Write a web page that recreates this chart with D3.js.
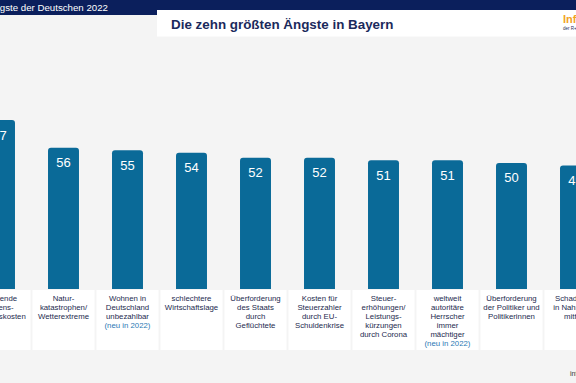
<!DOCTYPE html>
<html>
<head>
<meta charset="utf-8">
<script src="https://cdn.jsdelivr.net/npm/d3@7"></script>
<style>
  html, body { margin: 0; padding: 0; background: #f4f4f4; }
  svg { display: block; }
  text { font-family: "Liberation Sans", Arial, sans-serif; }
</style>
</head>
<body>
<svg id="chart" width="576" height="383"></svg>
<script>
// Data
const categories = [
  "Steigende Lebenshaltungskosten",
  "Naturkatastrophen/Wetterextreme",
  "Wohnen in Deutschland unbezahlbar",
  "schlechtere Wirtschaftslage",
  "Überforderung des Staats durch Geflüchtete",
  "Kosten für Steuerzahler durch EU-Schuldenkrise",
  "Steuererhöhungen/Leistungskürzungen durch Corona",
  "weltweit autoritäre Herrscher immer mächtiger",
  "Überforderung der Politiker und Politikerinnen",
  "Schadstoffe in Nahrungsmitteln"
];
const values = [67, 56, 55, 54, 52, 52, 51, 51, 50, 49];
const labelLines = [
  ["Steigende", "Lebens-", "haltungskosten"],
  ["Natur-", "katastrophen/", "Wetterextreme"],
  ["Wohnen in", "Deutschland", "unbezahlbar"],
  ["schlechtere", "Wirtschaftslage"],
  ["Überforderung", "des Staats", "durch", "Geflüchtete"],
  ["Kosten für", "Steuerzahler", "durch EU-", "Schuldenkrise"],
  ["Steuer-", "erhöhungen/", "Leistungs-", "kürzungen", "durch Corona"],
  ["weltweit", "autoritäre", "Herrscher", "immer", "mächtiger"],
  ["Überforderung", "der Politiker und", "Politikerinnen"],
  ["Schadstoffe", "in Nahrungs-", "mitteln"]
];
const isNew = [false, false, true, false, false, false, false, true, false, false];
const newNote = "(neu in 2022)";
const headerText = "Die Ängste der Deutschen 2022";
const titleText = "Die zehn größten Ängste in Bayern";

const svg = d3.select("#chart");
const W = 576, H = 383;

svg.append("rect").attr("x", 0).attr("y", 0).attr("width", W).attr("height", H).attr("fill", "#f4f4f4");

// header band
svg.append("rect").attr("x", 0).attr("y", 0).attr("width", W).attr("height", 15).attr("fill", "#0b1f5c");
svg.append("text").attr("x", 108).attr("y", 10.8).attr("text-anchor", "end")
  .attr("font-size", 9.7).attr("fill", "#ffffff").text(headerText);
svg.append("rect").attr("x", 157).attr("y", 10).attr("width", W - 157).attr("height", 26.5).attr("fill", "#ffffff");
svg.append("text").attr("x", 171).attr("y", 28.5).attr("font-size", 13.4).attr("font-weight", "bold")
  .attr("fill", "#1b2a5c").text(titleText);
// logo
svg.append("text").attr("x", 563).attr("y", 22.7).attr("font-size", 11).attr("font-weight", "bold")
  .attr("fill", "#f2a31f").text("Infocenter");
svg.append("text").attr("x", 563).attr("y", 29.5).attr("font-size", 4.5)
  .attr("fill", "#1b2a5c").text("der R+V Versicherung");

// scales
const x = d3.scaleBand().domain(categories).range([-32.5, 607.5]).paddingInner(0.516).paddingOuter(0.258);
const y = d3.scaleLinear().domain([0, 67]).range([289, 120]);
const bw = x.bandwidth();
const r = 3;

const g = svg.append("g");
const items = categories.map((c, i) => ({ c, v: values[i], lines: labelLines[i], isNew: isNew[i] }));

g.selectAll("path.bar").data(items).join("path")
  .attr("class", "bar")
  .attr("fill", "#0a6a98")
  .attr("d", d => {
    const x0 = x(d.c), x1 = x0 + bw, y0 = y(d.v), yb = y(0);
    return `M${x0},${yb} L${x0},${y0 + r} Q${x0},${y0} ${x0 + r},${y0} L${x1 - r},${y0} Q${x1},${y0} ${x1},${y0 + r} L${x1},${yb} Z`;
  });

g.selectAll("text.val").data(items).join("text")
  .attr("class", "val")
  .attr("x", d => x(d.c) + bw / 2)
  .attr("y", d => y(d.v) + 19.5)
  .attr("text-anchor", "middle")
  .attr("font-size", 13)
  .attr("fill", "#ffffff")
  .text(d => d.v);

// label boxes
g.selectAll("rect.lbox").data(items).join("rect")
  .attr("class", "lbox")
  .attr("x", d => x(d.c) + bw / 2 - 31)
  .attr("y", 290)
  .attr("width", 62)
  .attr("height", 60)
  .attr("fill", "#ffffff");

const lg = g.selectAll("text.lbl").data(items).join("text")
  .attr("class", "lbl")
  .attr("text-anchor", "middle")
  .attr("font-size", 7.8);
lg.each(function(d) {
  const t = d3.select(this);
  const cx = x(d.c) + bw / 2;
  d.lines.forEach((l, k) => {
    t.append("tspan").attr("x", cx).attr("y", 300.8 + k * 9).attr("fill", "#1c2a4e").text(l);
  });
  if (d.isNew) {
    t.append("tspan").attr("x", cx).attr("y", 300.8 + d.lines.length * 9).attr("fill", "#2a78b4").text(newNote);
  }
});

// source
svg.append("text").attr("x", 570).attr("y", 376).attr("font-size", 7).attr("fill", "#333").text("infocenter.ruv.de");
</script>
</body>
</html>
